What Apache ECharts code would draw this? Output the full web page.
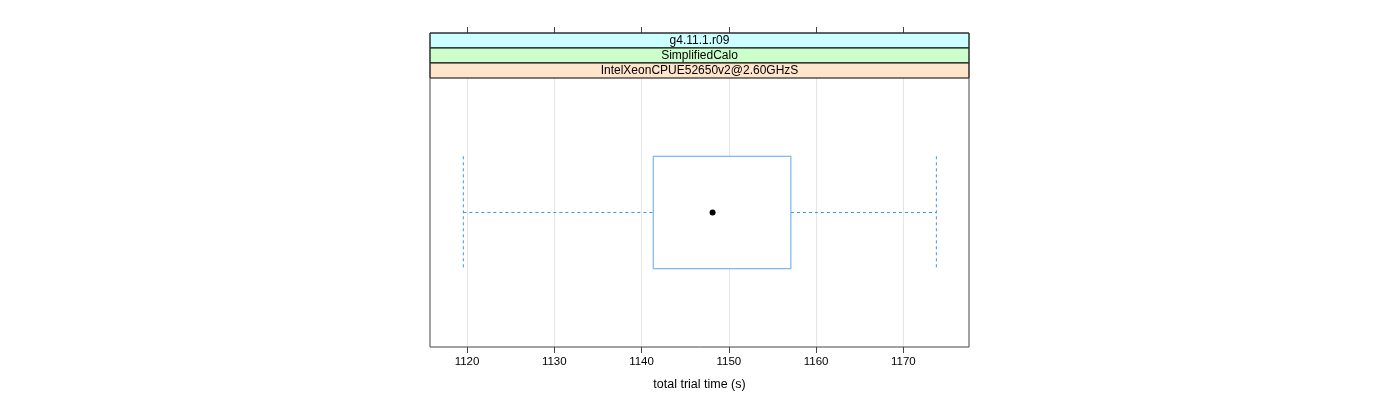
<!DOCTYPE html>
<html>
<head>
<meta charset="utf-8">
<script src="https://cdn.jsdelivr.net/npm/echarts@6/dist/echarts.min.js"></script>
<style>html,body{margin:0;padding:0;background:#fff}#c{width:1400px;height:400px}</style>
</head>
<body>
<div id="c"></div>
<script>
// ---- data ----
const categories = ['IntelXeonCPUE52650v2@2.60GHzS'];
const whiskerLow = [1119.58];
const q1 = [1141.34];
const median = [1148.14];
const q3 = [1157.11];
const whiskerHigh = [1173.78];
const stripLabels = ['g4.11.1.r09', 'SimplifiedCalo', 'IntelXeonCPUE52650v2@2.60GHzS'];
const tickValues = [1120, 1130, 1140, 1150, 1160, 1170];
const xMin = 1115.76, xMax = 1177.52;

// ---- layout ----
const L = 430, R = 969, T = 78, B = 347, stripH = 15;
const stripColors = ['#ccffff', '#ccffcc', '#ffe5cc'];
const FONT = 'Liberation Sans';
const boxCol = '#5ea5f2', whiskCol = '#3b94f7';

const chart = echarts.init(document.getElementById('c'), null, {renderer: 'canvas'});

const graphics = [];
stripLabels.forEach((lab, i) => {
  const y = T - stripH * (stripLabels.length - i);
  graphics.push({
    type: 'rect', shape: {x: L, y: y, width: R - L, height: stripH},
    style: {fill: stripColors[i], stroke: '#000', lineWidth: 1}, z: 10
  });
  graphics.push({
    type: 'text', x: (L + R) / 2, y: y + stripH / 2 + 0.5,
    style: {text: lab, fill: '#000', font: '12px "' + FONT + '"', align: 'center', verticalAlign: 'middle'}, z: 11
  });
});
graphics.push({
  type: 'rect', shape: {x: L, y: T - stripH * 3, width: R - L, height: B - T + stripH * 3},
  style: {fill: 'none', stroke: '#444', lineWidth: 1}, z: 12
});

const data = categories.map((c, i) => [i, whiskerLow[i], q1[i], median[i], q3[i], whiskerHigh[i]]);

chart.setOption({
  animation: false,
  grid: {left: L, right: 1400 - R, top: T, bottom: 400 - B, show: false},
  xAxis: [{
    type: 'value', min: xMin, max: xMax, position: 'bottom',
    axisLine: {show: false},
    axisTick: {show: true, length: 6, customValues: tickValues, lineStyle: {color: '#444'}},
    axisLabel: {color: '#000', fontFamily: FONT, fontSize: 11.5, margin: 9,
      customValues: tickValues, formatter: v => String(v)},
    splitLine: {show: true, lineStyle: {color: '#e6e6e6', width: 1}},
    name: 'total trial time (s)', nameLocation: 'middle', nameGap: 31,
    nameTextStyle: {color: '#000', fontFamily: FONT, fontSize: 12.5}
  }, {
    type: 'value', min: xMin, max: xMax, position: 'top', offset: stripH * 3,
    axisLine: {show: false},
    axisTick: {show: true, length: 6, customValues: tickValues, lineStyle: {color: '#444'}},
    axisLabel: {show: false},
    splitLine: {show: false}
  }],
  yAxis: {
    type: 'category', data: categories, show: false,
    axisLine: {show: false}, axisTick: {show: false}, splitLine: {show: false}
  },
  graphic: graphics,
  series: [{
    type: 'custom',
    data: data,
    encode: {x: [1, 2, 3, 4, 5], y: 0},
    renderItem: function (params, api) {
      const yi = api.value(0);
      const pLo = api.coord([api.value(1), yi]);
      const pQ1 = api.coord([api.value(2), yi]);
      const pMed = api.coord([api.value(3), yi]);
      const pQ3 = api.coord([api.value(4), yi]);
      const pHi = api.coord([api.value(5), yi]);
      const band = api.size([0, 1])[1];
      const h = band * 0.209;
      const cy = pMed[1];
      const dash = {stroke: whiskCol, lineWidth: 1, lineDash: [3, 3]};
      return {
        type: 'group',
        children: [
          {type: 'line', shape: {x1: pLo[0], y1: cy, x2: pQ1[0], y2: cy}, style: dash},
          {type: 'line', shape: {x1: pQ3[0], y1: cy, x2: pHi[0], y2: cy}, style: dash},
          {type: 'line', shape: {x1: pLo[0], y1: cy - h, x2: pLo[0], y2: cy + h}, style: dash},
          {type: 'line', shape: {x1: pHi[0], y1: cy - h, x2: pHi[0], y2: cy + h}, style: dash},
          {type: 'rect', shape: {x: pQ1[0], y: cy - h, width: pQ3[0] - pQ1[0], height: 2 * h},
            style: {fill: '#fff', stroke: boxCol, lineWidth: 1}},
          {type: 'circle', shape: {cx: pMed[0], cy: cy, r: 3}, style: {fill: '#000'}}
        ]
      };
    }
  }]
});
</script>
</body>
</html>
